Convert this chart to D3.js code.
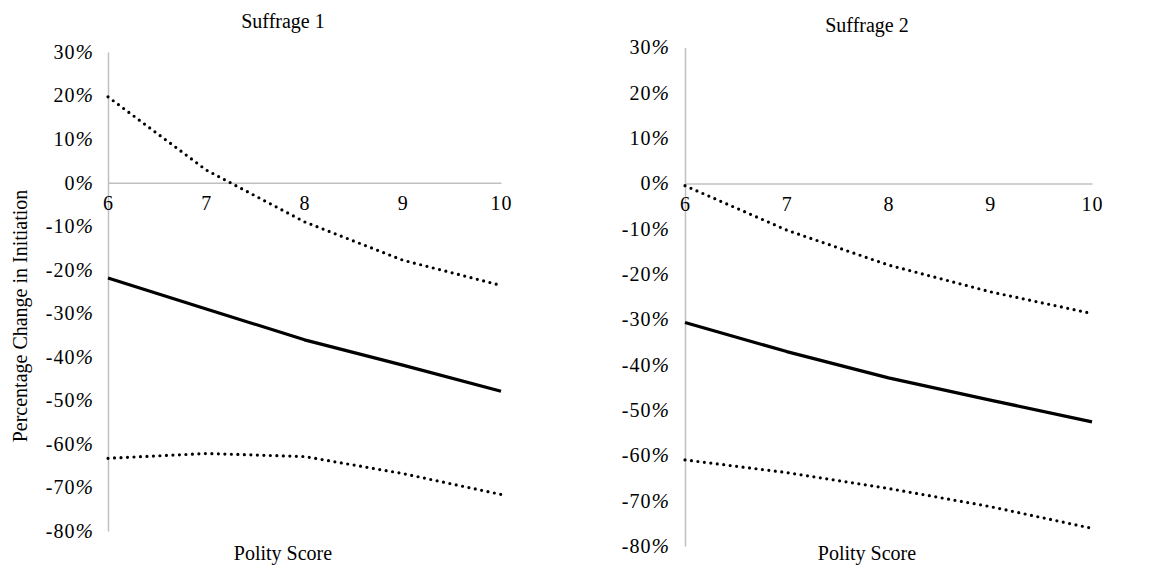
<!DOCTYPE html>
<html>
<head>
<meta charset="utf-8">
<script src="https://cdn.jsdelivr.net/npm/d3@7"></script>
<style>
  html, body { margin: 0; padding: 0; background: #fff; }
  svg { display: block; }
  text { font-family: "Liberation Serif", "DejaVu Serif", serif; fill: #000; }
</style>
</head>
<body>
<svg id="chart" width="1157" height="566"></svg>
<script>
// Polity score categories along the x axis
const polityScores = [6, 7, 8, 9, 10];
// Y-axis tick values (percent)
const yTickValues = [30, 20, 10, 0, -10, -20, -30, -40, -50, -60, -70, -80];

// Suffrage 1: estimated change and confidence bounds (percent)
const s1Estimate = [-21.9, -29.0, -36.1, -41.9, -47.9];
const s1Upper    = [19.7, 2.9, -9.0, -17.8, -23.6];
const s1Lower    = [-63.3, -62.2, -62.9, -66.8, -71.6];

// Suffrage 2: estimated change and confidence bounds (percent)
const s2Estimate = [-30.7, -37.1, -42.9, -47.8, -52.6];
const s2Upper    = [-0.5, -10.3, -18.0, -23.9, -28.7];
const s2Lower    = [-61.0, -63.8, -67.3, -71.3, -76.1];

const panelTitles = ["Suffrage 1", "Suffrage 2"];
const xAxisTitle = "Polity Score";
const yAxisTitle = "Percentage Change in Initiation";

const svg = d3.select("#chart");
const axisGrey = "#c0c0c0";

const panels = [
  { title: panelTitles[0], est: s1Estimate, up: s1Upper, lo: s1Lower,
    x0: 108, x1: 501, yTop: 52, yBot: 531, cx: 283, titleY: 28, yLabelPad: 14 },
  { title: panelTitles[1], est: s2Estimate, up: s2Upper, lo: s2Lower,
    x0: 685, x1: 1092, yTop: 47.5, yBot: 546, cx: 867, titleY: 32, yLabelPad: 15 }
];

function drawPanel(p) {
  const g = svg.append("g");
  const x = d3.scalePoint().domain(polityScores).range([p.x0, p.x1]);
  const y = d3.scaleLinear().domain([-80, 30]).range([p.yBot, p.yTop]);

  // Y axis
  const yAxis = g.append("g")
    .attr("transform", `translate(${p.x0},0)`)
    .call(d3.axisLeft(y).tickValues(yTickValues).tickSize(0).tickSizeOuter(0)
      .tickPadding(p.yLabelPad).tickFormat(d => d));
  yAxis.select(".domain").attr("stroke", axisGrey).attr("stroke-width", 1.5);
  yAxis.selectAll("text")
    .attr("font-size", 20)
    .attr("letter-spacing", 1)
    .attr("font-family", "Liberation Serif, serif")
    .each(function () {
      d3.select(this).append("tspan").attr("font-style", "italic")
        .attr("font-size", 21).text("%");
    });

  // X axis along the zero line
  const xAxis = g.append("g")
    .attr("transform", `translate(0,${y(0)})`)
    .call(d3.axisBottom(x).tickSize(0).tickSizeOuter(0).tickPadding(13));
  xAxis.select(".domain").attr("stroke", axisGrey).attr("stroke-width", 1.5);
  xAxis.selectAll("text")
    .attr("font-size", 20)
    .attr("letter-spacing", 1)
    .attr("font-family", "Liberation Serif, serif");

  const line = d3.line()
    .x((d, i) => x(polityScores[i]))
    .y(d => y(d));

  // Confidence bounds (dotted)
  [p.up, p.lo].forEach(vals => {
    g.append("path")
      .datum(vals)
      .attr("d", line)
      .attr("fill", "none")
      .attr("stroke", "#000")
      .attr("stroke-width", 3.2)
      .attr("stroke-linecap", "round")
      .attr("stroke-dasharray", "0 6.5");
  });

  // Point estimate (solid)
  g.append("path")
    .datum(p.est)
    .attr("d", line)
    .attr("fill", "none")
    .attr("stroke", "#000")
    .attr("stroke-width", 3.2)
    .attr("stroke-linejoin", "round");

  // Titles
  g.append("text")
    .attr("x", p.cx).attr("y", p.titleY)
    .attr("text-anchor", "middle")
    .attr("font-size", 20)
    .text(p.title);

  g.append("text")
    .attr("x", p.cx).attr("y", 560)
    .attr("text-anchor", "middle")
    .attr("font-size", 20)
    .text(xAxisTitle);
}

panels.forEach(drawPanel);

// Shared y-axis title on the left panel
svg.append("text")
  .attr("transform", "translate(27,316) rotate(-90)")
  .attr("text-anchor", "middle")
  .attr("font-size", 20)
  .text(yAxisTitle);
</script>
</body>
</html>
